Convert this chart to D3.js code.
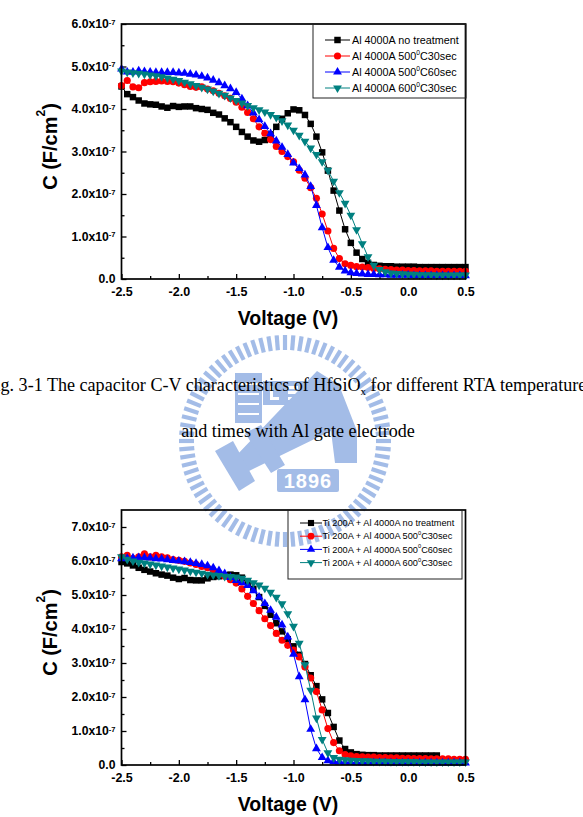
<!DOCTYPE html>
<html>
<head>
<meta charset="utf-8">
<script src="https://cdn.jsdelivr.net/npm/d3@7"></script>
<style>
  html, body { margin: 0; padding: 0; background: #fff; overflow: hidden; }
  svg { display: block; }
</style>
</head>
<body>
<svg id="page" width="583" height="817"></svg>
<script>
// sweep voltage (V), 0.05 V steps
const voltage = [-2.5, -2.45, -2.4, -2.35, -2.3, -2.25, -2.2, -2.15, -2.1, -2.05,
  -2.0, -1.95, -1.9, -1.85, -1.8, -1.75, -1.7, -1.65, -1.6, -1.55,
  -1.5, -1.45, -1.4, -1.35, -1.3, -1.25, -1.2, -1.15, -1.1, -1.05,
  -1.0, -0.95, -0.9, -0.85, -0.8, -0.75, -0.7, -0.65, -0.6, -0.55,
  -0.5, -0.45, -0.4, -0.35, -0.3, -0.25, -0.2, -0.15, -0.1, -0.05,
  0.0, 0.05, 0.1, 0.15, 0.2, 0.25, 0.3, 0.35, 0.4, 0.45, 0.5];

// Fig 3-1 : Al gate, C in 1e-7 F/cm2
const alNoTreat = [4.53, 4.35, 4.28, 4.20, 4.13, 4.11, 4.10, 4.06, 4.03, 4.07,
  4.05, 4.06, 4.06, 4.02, 4.00, 3.98, 3.91, 3.87, 3.78, 3.69,
  3.58, 3.46, 3.35, 3.26, 3.23, 3.27, 3.40, 3.58, 3.77, 3.90,
  3.99, 3.97, 3.86, 3.65, 3.35, 2.98, 2.55, 2.08, 1.61, 1.17,
  0.85, 0.62, 0.47, 0.38, 0.33, 0.31, 0.30, 0.30, 0.29, 0.29,
  0.29, 0.29, 0.28, 0.28, 0.28, 0.28, 0.28, 0.28, 0.28, 0.28, 0.28];
const al500c30 = [4.55, 4.67, 4.52, 4.50, 4.62, 4.64, 4.65, 4.66, 4.65, 4.64,
  4.61, 4.57, 4.53, 4.51, 4.52, 4.47, 4.43, 4.37, 4.31, 4.25,
  4.16, 4.04, 3.92, 3.77, 3.58, 3.43, 3.28, 3.12, 3.00, 2.88,
  2.76, 2.56, 2.37, 2.15, 1.90, 1.53, 1.13, 0.72, 0.48, 0.36,
  0.32, 0.29, 0.28, 0.27, 0.25, 0.24, 0.23, 0.22, 0.21, 0.21,
  0.20, 0.20, 0.19, 0.19, 0.19, 0.18, 0.18, 0.18, 0.18, 0.18, 0.18];
const al500c60 = [4.94, 4.87, 4.87, 4.90, 4.88, 4.87, 4.86, 4.86, 4.86, 4.86,
  4.85, 4.84, 4.82, 4.80, 4.77, 4.73, 4.68, 4.62, 4.55, 4.48,
  4.39, 4.24, 4.08, 3.91, 3.75, 3.59, 3.42, 3.25, 3.10, 2.93,
  2.73, 2.60, 2.45, 2.18, 1.73, 1.21, 0.74, 0.44, 0.28, 0.19,
  0.15, 0.13, 0.12, 0.11, 0.11, 0.10, 0.10, 0.09, 0.09, 0.09,
  0.09, 0.08, 0.08, 0.08, 0.08, 0.08, 0.08, 0.08, 0.08, 0.08, 0.08];
const al600c30 = [4.89, 4.87, 4.85, 4.84, 4.82, 4.80, 4.78, 4.76, 4.73, 4.70,
  4.67, 4.63, 4.59, 4.55, 4.51, 4.47, 4.42, 4.37, 4.32, 4.26,
  4.20, 4.14, 4.08, 4.03, 3.98, 3.93, 3.87, 3.80, 3.72, 3.62,
  3.50, 3.38, 3.24, 3.08, 2.93, 2.76, 2.56, 2.30, 2.03, 1.78,
  1.50, 1.16, 0.83, 0.52, 0.32, 0.22, 0.17, 0.14, 0.13, 0.12,
  0.11, 0.11, 0.10, 0.10, 0.10, 0.09, 0.09, 0.09, 0.09, 0.09, 0.09];

// second figure : Ti 200A + Al 4000A gate
const tiNoTreat = [5.97, 5.93, 5.87, 5.80, 5.74, 5.69, 5.64, 5.60, 5.57, 5.51,
  5.47, 5.50, 5.44, 5.43, 5.43, 5.49, 5.53, 5.55, 5.58, 5.60,
  5.58, 5.51, 5.38, 5.18, 4.94, 4.68, 4.42, 4.17, 3.93, 3.70,
  3.49, 3.24, 2.97, 2.64, 2.32, 1.93, 1.53, 1.12, 0.72, 0.47,
  0.37, 0.32, 0.30, 0.29, 0.29, 0.28, 0.28, 0.28, 0.28, 0.28,
  0.28, 0.28, 0.28, 0.28, 0.28, 0.28];
const ti500c30 = [6.12, 6.17, 6.07, 6.12, 6.21, 6.12, 6.17, 6.12, 6.09, 6.04,
  6.02, 5.99, 5.94, 5.90, 5.84, 5.80, 5.72, 5.64, 5.55, 5.45,
  5.35, 5.18, 4.96, 4.75, 4.54, 4.30, 4.10, 3.87, 3.67, 3.52,
  3.38, 3.18, 2.88, 2.56, 2.16, 1.62, 1.07, 0.66, 0.42, 0.31,
  0.27, 0.25, 0.24, 0.23, 0.23, 0.22, 0.22, 0.21, 0.21, 0.20,
  0.20, 0.19, 0.19, 0.19, 0.18, 0.18, 0.18, 0.18, 0.17, 0.17, 0.17];
const ti500c60 = [6.07, 6.08, 6.09, 6.10, 6.10, 6.09, 6.07, 6.06, 6.04, 6.02,
  6.00, 5.98, 5.96, 5.93, 5.90, 5.86, 5.80, 5.72, 5.63, 5.52,
  5.43, 5.36, 5.28, 5.13, 4.94, 4.75, 4.55, 4.35, 4.12, 3.77,
  3.26, 2.60, 1.92, 1.05, 0.48, 0.22, 0.13, 0.10, 0.09, 0.08,
  0.08, 0.07, 0.07, 0.07, 0.07, 0.07, 0.07, 0.06, 0.06, 0.06,
  0.06, 0.06, 0.06, 0.06, 0.06, 0.06, 0.06, 0.06, 0.06, 0.06, 0.06];
const ti600c30 = [6.12, 6.05, 6.00, 5.96, 5.94, 5.91, 5.88, 5.85, 5.82, 5.79,
  5.76, 5.73, 5.70, 5.67, 5.64, 5.61, 5.59, 5.57, 5.55, 5.54,
  5.53, 5.49, 5.43, 5.36, 5.29, 5.20, 5.08, 4.93, 4.74, 4.45,
  4.08, 3.58, 2.95, 2.20, 1.38, 0.75, 0.36, 0.22, 0.17, 0.15,
  0.14, 0.13, 0.12, 0.12, 0.11, 0.11, 0.11, 0.10, 0.10, 0.10,
  0.10, 0.10, 0.09, 0.09, 0.09, 0.09, 0.09, 0.09, 0.09, 0.09, 0.09];

// legend text: [before superscript, superscript, after]
const alLabels = [['Al 4000A no treatment', '', ''],
  ['Al 4000A 500', '0', 'C30sec'],
  ['Al 4000A 500', '0', 'C60sec'],
  ['Al 4000A 600', '0', 'C30sec']];
const tiLabels = [['Ti 200A + Al 4000A no treatment', '', ''],
  ['Ti 200A + Al 4000A 500', '0', 'C30sec'],
  ['Ti 200A + Al 4000A 500', '0', 'C60sec'],
  ['Ti 200A + Al 4000A 600', '0', 'C30sec']];

const xTicks = [-2.5, -2.0, -1.5, -1.0, -0.5, 0.0, 0.5];
const xMinor = [-2.25, -1.75, -1.25, -0.75, -0.25, 0.25];

const colors = ['#000000', '#ff0000', '#0000ff', '#008080'];
const symbols = [d3.symbolSquare, d3.symbolCircle, d3.symbolTriangle, d3.symbolTriangle];
const symSize = [42, 40, 34, 34];

const svg = d3.select('#page');
const AX = 'Liberation Sans, Arial, sans-serif';

// faint university seal behind the page
function drawWatermark() {
  const col = '#a3bce7';
  const wm = svg.append('g').attr('transform', 'translate(285,441)').attr('fill', col);
  const angles = d3.range(0, 360, 4.5);
  wm.selectAll('line').data(angles).enter().append('line')
    .attr('x1', a => 91 * Math.cos(a * Math.PI / 180))
    .attr('y1', a => 91 * Math.sin(a * Math.PI / 180))
    .attr('x2', a => 106 * Math.cos(a * Math.PI / 180))
    .attr('y2', a => 106 * Math.sin(a * Math.PI / 180))
    .attr('stroke', col).attr('stroke-width', 4.2);
  // stack of books
  wm.append('rect').attr('x', -50).attr('y', -68).attr('width', 27).attr('height', 50);
  [-58, -48, -38, -28].forEach(v => wm.append('rect').attr('x', -47).attr('y', v)
    .attr('width', 21).attr('height', 2).attr('fill', '#fff'));
  // letter block
  wm.append('rect').attr('x', -22).attr('y', -60).attr('width', 44).attr('height', 24);
  wm.append('rect').attr('x', -15).attr('y', -55).attr('width', 3).attr('height', 14).attr('fill', '#fff');
  wm.append('rect').attr('x', -15).attr('y', -44).attr('width', 9).attr('height', 3).attr('fill', '#fff');
  wm.append('rect').attr('x', 3).attr('y', -55).attr('width', 10).attr('height', 3).attr('fill', '#fff');
  wm.append('rect').attr('x', 3).attr('y', -50).attr('width', 10).attr('height', 3).attr('fill', '#fff');
  wm.append('rect').attr('x', 3).attr('y', -44).attr('width', 10).attr('height', 3).attr('fill', '#fff');
  // big diagonal arrow
  wm.append('path').attr('d', 'M32,-70 L54,-56 L72,-10 L72,22 L50,22 L46,-10 L-36,30 L-50,16 Z');
  // bars under the book stack
  wm.append('path').attr('d', 'M-70,10 L-52,0 L-30,40 L-46,50 Z');
  wm.append('path').attr('d', 'M-40,-8 L-24,-16 L0,24 L-14,32 Z');
  // year plate
  wm.append('rect').attr('x', -8).attr('y', 28).attr('width', 62).attr('height', 23).attr('rx', 2);
  wm.append('text').attr('x', 23).attr('y', 47).attr('text-anchor', 'middle')
    .attr('font-family', AX).attr('font-weight', 'bold').attr('font-size', 20)
    .attr('fill', '#fff').attr('letter-spacing', 1).text('1896');
}

function drawChart(cfg) {
  const x = d3.scaleLinear().domain([-2.5, 0.5]).range([121.5, 465.5]);
  const y = d3.scaleLinear().domain([0, cfg.yMax]).range([cfg.bottom, cfg.top]);
  const g = svg.append('g');

  // axes, ticks inside
  const yAxis = g.append('g').attr('transform', `translate(${x.range()[0]},0)`)
    .call(d3.axisLeft(y).tickValues(cfg.yTicks).tickSizeInner(-5).tickSizeOuter(0).tickPadding(6));
  g.append('g').attr('transform', `translate(${x.range()[0]},0)`)
    .call(d3.axisLeft(y).tickValues(cfg.yMinor).tickSizeInner(-3).tickSizeOuter(0).tickFormat(''));
  const xAxis = g.append('g').attr('transform', `translate(0,${cfg.bottom})`)
    .call(d3.axisBottom(x).tickValues(xTicks).tickSizeInner(-5).tickSizeOuter(0).tickPadding(8)
      .tickFormat(d => d.toFixed(1)));
  g.append('g').attr('transform', `translate(0,${cfg.bottom})`)
    .call(d3.axisBottom(x).tickValues(xMinor).tickSizeInner(-3).tickSizeOuter(0).tickFormat(''));
  g.selectAll('.domain').remove();
  g.selectAll('.tick line').attr('stroke', '#000').attr('stroke-width', 1.3);

  xAxis.selectAll('text').attr('font-family', AX).attr('font-weight', 'bold').attr('font-size', 12.5).attr('fill', '#000');
  yAxis.selectAll('text').attr('font-family', AX).attr('font-weight', 'bold').attr('font-size', 12.2).attr('fill', '#000')
    .each(function (d) {
      const t = d3.select(this);
      t.text(null);
      if (d === 0) { t.text('0.0'); return; }
      t.append('tspan').text(d.toFixed(1) + 'x10');
      t.append('tspan').attr('dy', '-0.5em').attr('font-size', 7.5).text('-7');
    });

  // series
  cfg.series.forEach((vals, i) => {
    const pts = vals.map((v, j) => [voltage[j], v]);
    g.append('path').datum(pts)
      .attr('d', d3.line().x(d => x(d[0])).y(d => y(d[1])))
      .attr('fill', 'none').attr('stroke', colors[i]).attr('stroke-width', 1);
    g.append('g').selectAll('path').data(pts).enter().append('path')
      .attr('transform', d => `translate(${x(d[0])},${y(d[1])})` + (i === 3 ? ' rotate(180)' : ''))
      .attr('d', d3.symbol(symbols[i], symSize[i]))
      .attr('fill', colors[i]);
  });

  // frame
  g.append('rect').attr('x', x.range()[0]).attr('y', cfg.top)
    .attr('width', x.range()[1] - x.range()[0]).attr('height', cfg.bottom - cfg.top)
    .attr('fill', 'none').attr('stroke', '#000').attr('stroke-width', 1.7);

  // legend
  const L = cfg.legend;
  g.append('rect').attr('x', L.x).attr('y', cfg.top).attr('width', L.w).attr('height', L.h)
    .attr('fill', 'none').attr('stroke', '#222').attr('stroke-width', 1);
  cfg.labels.forEach((lab, i) => {
    const ly = cfg.top + L.y0 + i * L.dy;
    g.append('line').attr('x1', L.lx0).attr('x2', L.lx1).attr('y1', ly).attr('y2', ly)
      .attr('stroke', colors[i]).attr('stroke-width', 1);
    g.append('path').attr('transform', `translate(${(L.lx0 + L.lx1) / 2},${ly})` + (i === 3 ? ' rotate(180)' : ''))
      .attr('d', d3.symbol(symbols[i], symSize[i] * L.ms)).attr('fill', colors[i]);
    const t = g.append('text').attr('x', L.tx).attr('y', ly).attr('dy', '0.35em')
      .attr('font-family', AX).attr('font-size', L.fs).attr('fill', '#000');
    t.append('tspan').text(lab[0]);
    if (lab[1]) {
      t.append('tspan').attr('dy', -L.fs * 0.45).attr('font-size', L.fs * 0.62).text(lab[1]);
      t.append('tspan').attr('dy', L.fs * 0.45).text(lab[2]);
    }
  });

  // axis titles
  svg.append('text').attr('x', 288).attr('y', cfg.bottom + 46).attr('text-anchor', 'middle')
    .attr('font-family', AX).attr('font-weight', 'bold').attr('font-size', 19.5).text('Voltage (V)');
  const ty = svg.append('text')
    .attr('transform', `translate(57,${(cfg.top + cfg.bottom) / 2 - 5}) rotate(-90)`)
    .attr('text-anchor', 'middle').attr('font-family', AX).attr('font-weight', 'bold').attr('font-size', 20);
  ty.append('tspan').text('C (F/cm');
  ty.append('tspan').attr('dy', -12).attr('font-size', 12).text('2');
  ty.append('tspan').attr('dy', 12).text(')');
}

// figure caption, first line runs past both page edges as in the scan
function drawCaption() {
  const SERIF = 'Liberation Serif, Times New Roman, serif';
  const fs = 18.1;
  const probe = svg.append('text').attr('font-family', SERIF).attr('font-size', fs).text('Fi');
  const wFi = probe.node().getComputedTextLength();
  probe.remove();
  const c1 = svg.append('text').attr('x', -wFi + 0.5).attr('y', 391)
    .attr('font-family', SERIF).attr('font-size', fs).attr('fill', '#000');
  c1.append('tspan').text('Fig. 3-1 The capacitor C-V characteristics of HfSiO');
  c1.append('tspan').attr('dy', 3.5).attr('font-size', 11).text('x');
  c1.append('tspan').attr('dy', -3.5).text(' for different RTA temperatures');
  svg.append('text').attr('x', 298).attr('y', 437).attr('text-anchor', 'middle')
    .attr('font-family', SERIF).attr('font-size', fs).attr('fill', '#000')
    .text('and times with Al gate electrode');
}

drawWatermark();
drawCaption();

drawChart({
  top: 24, bottom: 279, yMax: 6,
  yTicks: [0, 1, 2, 3, 4, 5, 6], yMinor: [0.5, 1.5, 2.5, 3.5, 4.5, 5.5],
  series: [alNoTreat, al500c30, al500c60, al600c30],
  labels: alLabels,
  legend: { x: 313, w: 153, h: 74, y0: 16, dy: 16, lx0: 325, lx1: 350, tx: 352, fs: 10.8, ms: 1 }
});

drawChart({
  top: 510, bottom: 765, yMax: 7.5,
  yTicks: [0, 1, 2, 3, 4, 5, 6, 7], yMinor: [0.5, 1.5, 2.5, 3.5, 4.5, 5.5, 6.5],
  series: [tiNoTreat, ti500c30, ti500c60, ti600c30],
  labels: tiLabels,
  legend: { x: 288, w: 174, h: 69, y0: 13, dy: 13.2, lx0: 300, lx1: 322, tx: 322.5, fs: 9.2, ms: 0.9 }
});
</script>
</body>
</html>
